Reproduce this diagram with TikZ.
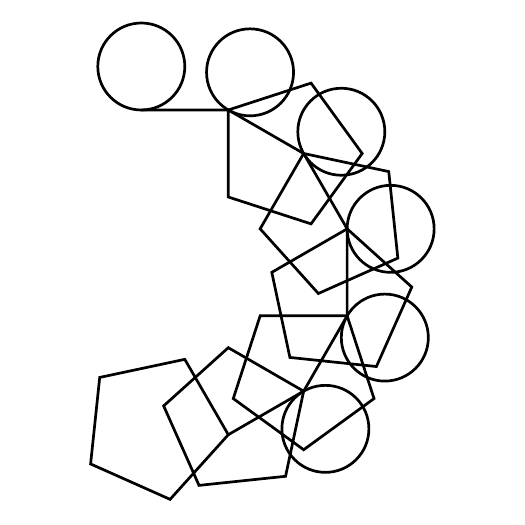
\documentclass[tikz,border=0pt]{standalone}
\usepackage{tikz}

\begin{document}
\begin{tikzpicture}[x=1pt,y=1pt,line width=2.7pt,line join=miter]
\useasboundingbox (0,0) rectangle (525,525);
% chain of junctions: side 87, heading turns by -30 each step
\path (141.3,415) coordinate (j0)
  ++(0:87) coordinate (j1)
  ++(-30:87) coordinate (j2)
  ++(-60:87) coordinate (j3)
  ++(-90:87) coordinate (j4)
  ++(-120:87) coordinate (j5)
  ++(-150:87) coordinate (j6);
% links
\draw (j0)--(j1)--(j2)--(j3)--(j4)--(j5)--(j6);
% circles, centre to the left of the heading
\draw ([shift={(90:43.5)}]j0) circle (43.5);
\draw ([shift={(60:43.5)}]j1) circle (43.5);
\draw ([shift={(30:43.5)}]j2) circle (43.5);
\draw ([shift={(0:43.5)}]j3) circle (43.5);
\draw ([shift={(-30:43.5)}]j4) circle (43.5);
\draw ([shift={(-60:43.5)}]j5) circle (43.5);
% pentagons
\draw (j1) -- ++(-90:87) -- ++(-18:87) -- ++(54:87) -- ++(126:87) -- cycle;
\draw (j2) -- ++(-120:87) -- ++(-48:87) -- ++(24:87) -- ++(96:87) -- cycle;
\draw (j3) -- ++(-150:87) -- ++(-78:87) -- ++(-6:87) -- ++(66:87) -- cycle;
\draw (j4) -- ++(-180:87) -- ++(-108:87) -- ++(-36:87) -- ++(36:87) -- cycle;
\draw (j5) -- ++(-210:87) -- ++(-138:87) -- ++(-66:87) -- ++(6:87) -- cycle;
\draw (j6) -- ++(-240:87) -- ++(-168:87) -- ++(-96:87) -- ++(-24:87) -- cycle;
\end{tikzpicture}
\end{document}
